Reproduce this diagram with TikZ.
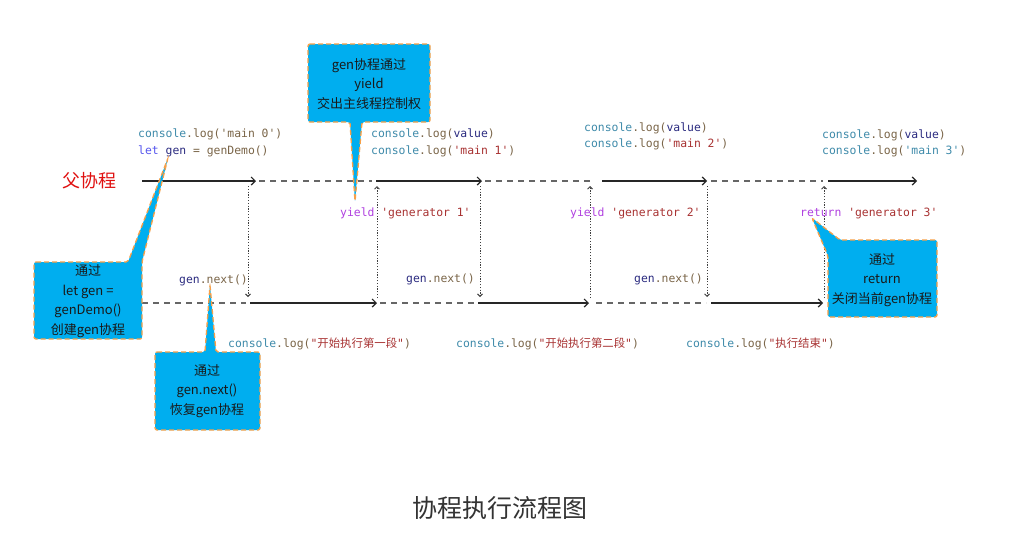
\documentclass[tikz,border=0pt]{standalone}
\usepackage{fontspec}
\setmonofont{DejaVu Sans Mono}
\newfontfamily\cjk{Noto Sans CJK SC}
\usetikzlibrary{arrows.meta}

\definecolor{cteal}{HTML}{3F8BAA}
\definecolor{cbrown}{HTML}{7A6548}
\definecolor{cnavy}{HTML}{2B2B80}
\definecolor{cred}{HTML}{A83232}
\definecolor{cviolet}{HTML}{B040E0}
\definecolor{cblue}{HTML}{5555EE}
\definecolor{boxblue}{HTML}{00AEEF}
\definecolor{boxorange}{HTML}{F7A048}
\definecolor{titlegray}{HTML}{333333}
\definecolor{fred}{HTML}{E01010}

\newcommand\Ccon{\textcolor{cteal}{console}}
\newcommand\Clog{\textcolor{cbrown}{.log(}}
\newcommand\Cend{\textcolor{cbrown}{)}}
\newcommand\Cgen{\textcolor{cnavy}{gen}}
\newcommand\Cnext{\textcolor{cbrown}{.next()}}

\begin{document}
\begin{tikzpicture}[x=1pt,y=-1pt,
  solidl/.style={line width=1.3pt, draw=black!85, -{Straight Barb[length=4pt,width=8pt,line width=1.2pt]}},
  dashl/.style={line width=1.2pt, draw=black!60, dash pattern=on 6pt off 5pt},
  dotl/.style={line width=1pt, draw=black!75, dash pattern=on 1.2pt off 1.6pt, -{Straight Barb[length=2.5pt,width=5pt,line width=0.9pt]}},
  code/.style={inner sep=0pt, anchor=base west, font=\fontsize{11.4}{17}\ttfamily\selectfont},
  callout/.style={fill=boxblue, draw=boxorange, line width=1.3pt, dash pattern=on 5pt off 3pt, rounded corners=2pt},
  ctext/.style={inner sep=0pt, align=center, font=\cjk\fontsize{13}{19.5}\selectfont, text=black!90},
]
\useasboundingbox (0,0) rectangle (1025,550);
\fill[white] (0,0) rectangle (1025,550);

% ---- top timeline coordinates
\coordinate (tA0) at (142,181); \coordinate (tA1) at (256,181);
\coordinate (tB0) at (259,181); \coordinate (tB1) at (372,181);
\coordinate (tC0) at (376,181); \coordinate (tC1) at (482,181);
\coordinate (tD0) at (485,181); \coordinate (tD1) at (594,181);
\coordinate (tE0) at (602,181); \coordinate (tE1) at (707,181);
\coordinate (tF0) at (711,181); \coordinate (tF1) at (823,181);
\coordinate (tG0) at (828,181); \coordinate (tG1) at (917,181);
% ---- bottom timeline coordinates
\coordinate (bA0) at (142,303); \coordinate (bA1) at (246,303);
\coordinate (bB0) at (250,303); \coordinate (bB1) at (377,303);
\coordinate (bC0) at (380,303); \coordinate (bC1) at (474,303);
\coordinate (bD0) at (478,303); \coordinate (bD1) at (589,303);
\coordinate (bE0) at (596,303); \coordinate (bE1) at (706,303);
\coordinate (bF0) at (711,303); \coordinate (bF1) at (823,303);
% ---- vertical coordinates
\coordinate (vA0) at (248,186); \coordinate (vA1) at (248,297);
\coordinate (vB0) at (377,298); \coordinate (vB1) at (377,186);
\coordinate (vC0) at (480,186); \coordinate (vC1) at (480,297);
\coordinate (vD0) at (590,298); \coordinate (vD1) at (590,186);
\coordinate (vE0) at (707,186); \coordinate (vE1) at (707,297);
\coordinate (vF0) at (824,298); \coordinate (vF1) at (824,186);

% top line
\draw[solidl] (tA0) -- (tA1);
\draw[dashl] (tB0) -- (tB1);
\draw[solidl] (tC0) -- (tC1);
\draw[dashl] (tD0) -- (tD1);
\draw[solidl] (tE0) -- (tE1);
\draw[dashl] (tF0) -- (tF1);
\draw[solidl] (tG0) -- (tG1);
% bottom line
\draw[dashl] (bA0) -- (bA1);
\draw[solidl] (bB0) -- (bB1);
\draw[dashl] (bC0) -- (bC1);
\draw[solidl] (bD0) -- (bD1);
\draw[dashl] (bE0) -- (bE1);
\draw[solidl] (bF0) -- (bF1);
% verticals
\draw[dotl] (vA0) -- (vA1);
\draw[dotl] (vB0) -- (vB1);
\draw[dotl] (vC0) -- (vC1);
\draw[dotl] (vD0) -- (vD1);
\draw[dotl] (vE0) -- (vE1);
\draw[dotl] (vF0) -- (vF1);

% label
\node[inner sep=0pt, text=fred, font=\cjk\fontsize{18}{18}\selectfont] (fu) at (89,181) {父协程};

% code texts top
\node[code] (c0a) at (138,137) {\Ccon\Clog\textcolor{cbrown}{'main 0'}\Cend};
\node[code] (c0b) at (138,154) {\textcolor{cblue}{let} \Cgen\ \textcolor{cbrown}{= genDemo()}};
\node[code] (c1a) at (371,137) {\Ccon\Clog\textcolor{cnavy}{value}\Cend};
\node[code] (c1b) at (371,154) {\Ccon\Clog\textcolor{cred}{'main 1'}\Cend};
\node[code] (c2a) at (584,131) {\Ccon\Clog\textcolor{cnavy}{value}\Cend};
\node[code] (c2b) at (584,147) {\Ccon\Clog\textcolor{cred}{'main 2'}\Cend};
\node[code] (c3a) at (822,138) {\Ccon\Clog\textcolor{cnavy}{value}\Cend};
\node[code] (c3b) at (822,154) {\Ccon\Clog\textcolor{cteal}{'main 3'}\Cend};
% yields
\node[code] (y1) at (340,216) {\textcolor{cviolet}{yield} \textcolor{cred}{'generator 1'}};
\node[code] (y2) at (570,216) {\textcolor{cviolet}{yield} \textcolor{cred}{'generator 2'}};
\node[code] (y3) at (800,216) {\textcolor{cviolet}{return} \textcolor{cred}{'generator 3'}};
% gen.next
\node[code] (n1) at (179,283) {\Cgen\Cnext};
\node[code] (n2) at (406,282) {\Cgen\Cnext};
\node[code] (n3) at (634,282) {\Cgen\Cnext};
% bottom code
\node[code] (d1) at (228,347) {\Ccon\Clog\textcolor{cred}{"{\cjk 开始执行第一段}"}\Cend};
\node[code] (d2) at (456,347) {\Ccon\Clog\textcolor{cred}{"{\cjk 开始执行第二段}"}\Cend};
\node[code] (d3) at (686,347) {\Ccon\Clog\textcolor{cred}{"{\cjk 执行结束}"}\Cend};

% callout shapes
\path[callout] (308,44) -- (430,44) -- (430,122) -- (362,122) -- (355,202) -- (350,122) -- (308,122) -- cycle;
\path[callout] (34,262) -- (128,262) -- (168,158) -- (142,262) -- (142,339) -- (34,339) -- cycle;
\path[callout] (155,352) -- (205,352) -- (210,285) -- (216,352) -- (260,352) -- (260,430) -- (155,430) -- cycle;
\path[callout] (840,240) -- (937,240) -- (937,317) -- (828,317) -- (828,256) -- (812,218) -- cycle;

% callout texts
\node[ctext] (k1) at (369,84) {gen协程通过\\yield\\交出主线程控制权};
\node[ctext] (k2) at (88,301) {通过\\let gen =\\genDemo()\\创建gen协程};
\node[ctext] (k3) at (207,391) {通过\\gen.next()\\恢复gen协程};
\node[ctext] (k4) at (882,280) {通过\\return\\关闭当前gen协程};

% title
\node[inner sep=0pt, text=titlegray, font=\cjk\fontsize{25}{25}\selectfont] (title) at (500,508) {协程执行流程图};
\end{tikzpicture}
\end{document}
